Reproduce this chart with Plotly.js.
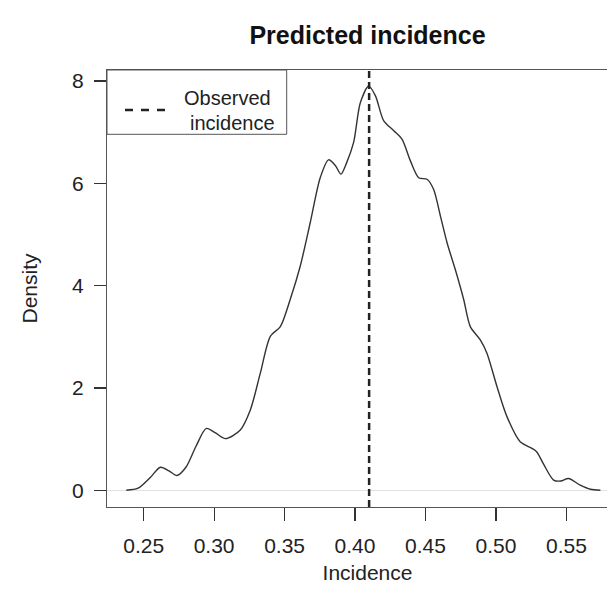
<!DOCTYPE html>
<html>
<head>
<meta charset="utf-8">
<script src="https://cdn.plot.ly/plotly-3.0.1.min.js"></script>
<style>
html,body{margin:0;padding:0;overflow:hidden;background:#fff;}
#chart{width:650px;height:601px;}
</style>
</head>
<body>
<div id="chart"></div>
<script>
// Density estimate of predicted incidence
var incidenceX = [0.2377,0.2460,0.2547,0.2619,0.2680,0.2737,0.2800,0.2870,0.2945,0.3010,
  0.3080,0.3186,0.3257,0.3328,0.3399,0.3470,0.3540,0.3611,0.3682,0.3753,
  0.3812,0.3860,0.3900,0.3940,0.3990,0.4038,0.4097,0.4145,0.4204,0.4275,
  0.4334,0.4393,0.4452,0.4511,0.4558,0.4606,0.4653,0.4712,0.4771,0.4818,
  0.4889,0.4936,0.5007,0.5078,0.5172,0.5255,0.5290,0.5340,0.5409,0.5460,
  0.5515,0.5598,0.5670,0.5741];
var densityY = [0.00,0.04,0.25,0.45,0.38,0.29,0.45,0.85,1.21,1.12,
  1.01,1.18,1.57,2.29,3.01,3.20,3.73,4.38,5.23,6.11,
  6.46,6.35,6.18,6.40,6.80,7.58,7.90,7.71,7.22,7.03,
  6.86,6.44,6.11,6.08,5.88,5.36,4.84,4.31,3.73,3.20,
  2.94,2.68,2.03,1.44,0.95,0.82,0.75,0.50,0.20,0.18,
  0.23,0.10,0.02,0.00];
var observedIncidence = 0.41;
var xTicks = [0.25,0.30,0.35,0.40,0.45,0.50,0.55];
var xTickLabels = ["0.25","0.30","0.35","0.40","0.45","0.50","0.55"];
var yTicks = [0,2,4,6,8];
var yTickLabels = ["0","2","4","6","8"];
var titleText = "Predicted incidence";
var xTitle = "Incidence";
var yTitle = "Density";
var legendLines = ["Observed", "incidence"];

var FONT = "Liberation Sans, Arial, Helvetica, sans-serif";
var W = 650, H = 601, L = 107, R = 22, T = 70, B = 94;
var pw = W - L - R, ph = H - T - B;
function px2x(p){ return (p - L) / pw; }
function py2y(p){ return (H - B - p) / ph; }

var trace = {
  x: incidenceX, y: densityY, type: 'scatter', mode: 'lines',
  line: {color: '#333', width: 1.4, shape: 'spline', smoothing: 0.8},
  hoverinfo: 'skip', showlegend: false
};

var layout = {
  width: W, height: H,
  margin: {l: L, r: R, t: T, b: B, pad: 0},
  paper_bgcolor: '#fff', plot_bgcolor: '#fff',
  font: {family: FONT, color: '#222', size: 21},
  title: {text: '<b>' + titleText + '</b>', font: {family: FONT, size: 25, color: '#111'},
          x: 0.5, xref: 'paper', xanchor: 'center', y: 1 - 35/H, yanchor: 'middle'},
  xaxis: {
    range: [0.224, 0.5937], tickmode: 'array', tickvals: xTicks, ticktext: xTickLabels,
    ticks: 'outside', ticklen: 13, tickwidth: 1.2, tickcolor: '#333',
    showline: true, linecolor: '#555', linewidth: 1, mirror: true,
    showgrid: false, zeroline: false, ticklabelstandoff: 7,
    tickfont: {size: 21, color: '#222'},
    title: {text: xTitle, font: {size: 21, color: '#222'}, standoff: 9}
  },
  yaxis: {
    range: [-0.327, 8.216], tickmode: 'array', tickvals: yTicks, ticktext: yTickLabels,
    ticks: 'outside', ticklen: 12, tickwidth: 1.2, tickcolor: '#333',
    showline: true, linecolor: '#555', linewidth: 1, mirror: true,
    showgrid: false, zeroline: true, zerolinecolor: '#e2e2e2', zerolinewidth: 1,
    ticklabelstandoff: 6,
    tickfont: {size: 21, color: '#222'},
    title: {text: yTitle, font: {size: 21, color: '#222'}, standoff: 28}
  },
  shapes: [
    {type: 'line', xref: 'x', yref: 'paper', x0: observedIncidence, x1: observedIncidence, y0: 0, y1: 1,
     line: {color: '#222', width: 2.5, dash: '7px,4px'}},
    {type: 'rect', xref: 'paper', yref: 'paper', x0: px2x(107), x1: px2x(286.7), y0: py2y(134.3), y1: py2y(70),
     line: {color: '#555', width: 1}, fillcolor: 'rgba(0,0,0,0)'},
    {type: 'line', xref: 'paper', yref: 'paper', x0: px2x(125), x1: px2x(165), y0: py2y(110), y1: py2y(110),
     line: {color: '#222', width: 2.5, dash: '8px,8px'}}
  ],
  annotations: [
    {xref: 'paper', yref: 'paper', x: px2x(181.7), y: py2y(98.5), xanchor: 'left', yanchor: 'middle',
     text: legendLines[0], showarrow: false, font: {size: 20, color: '#222'}},
    {xref: 'paper', yref: 'paper', x: px2x(188.3), y: py2y(123), xanchor: 'left', yanchor: 'middle',
     text: legendLines[1], showarrow: false, font: {size: 20, color: '#222'}}
  ],
  showlegend: false
};

Plotly.newPlot('chart', [trace], layout, {displayModeBar: false, staticPlot: true});
</script>
</body>
</html>
